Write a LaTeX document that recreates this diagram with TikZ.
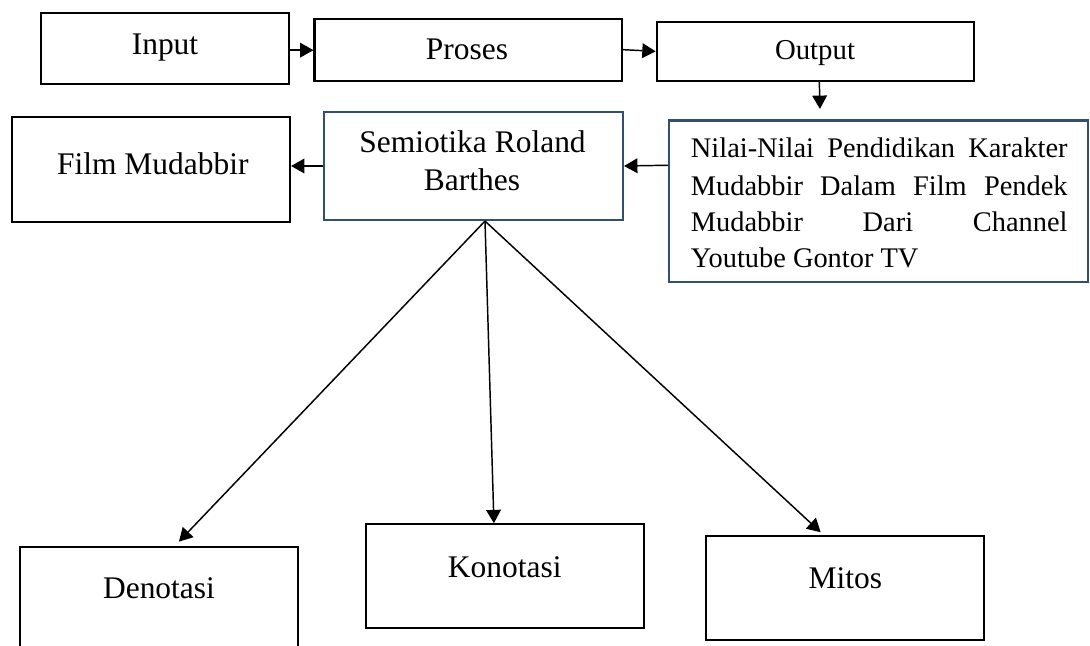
\documentclass[tikz,border=0pt]{standalone}
\usepackage{fontspec}
\setmainfont{Liberation Serif}
\usetikzlibrary{arrows.meta,fit,calc}
\definecolor{boxblue}{RGB}{49,80,110}
\begin{document}
\begin{tikzpicture}[x=0.75pt,y=-0.75pt,
  box/.style={draw=black, line width=1.6pt, rectangle, inner sep=0pt},
  bbox/.style={draw=boxblue, line width=1.6pt, rectangle, inner sep=0pt},
  txt/.style={inner sep=0pt, anchor=base, font=\fontsize{23.6}{27}\selectfont},
  stxt/.style={inner sep=0pt, anchor=base west, font=\fontsize{21.3}{26}\selectfont},
  conn/.style={line width=1.1pt, -{Triangle[length=10pt,width=11pt]}}]
\useasboundingbox (0,0) rectangle (1090,646);
\clip (0,0) rectangle (1090,646);
% boxes
\node[box, fit={(40.7,13.3) (289.3,84)}] (input) {};
\node[box, fit={(314.5,19.3) (621.7,81)}] (proses) {};
\node[box, fit={(656.7,21.7) (974,81)}] (output) {};
\node[box, fit={(11.7,116.7) (290,221.7)}] (film) {};
\node[bbox, fit={(324,112) (623,220)}] (semio) {};
\node[bbox, fit={(669.3,120.5) (1088,282)}] (nilai) {};
\node[box, fit={(20,547.3) (298.3,700)}] (denot) {};
\node[box, fit={(366,524.3) (644.3,627.7)}] (konot) {};
\node[box, fit={(706,535.7) (984,640)}] (mitos) {};
% texts
\node[txt] (tinput) at (165,54.3) {Input};
\node[txt] (tproses) at (467,60) {Proses};
\node[txt, font=\fontsize{21.6}{25}\selectfont] (toutput) at (815,60) {Output};
\node[txt] (tfilm) at (152.8,174) {Film Mudabbir};
\node[txt] (tsemio1) at (472.5,152) {Semiotika Roland};
\node[txt] (tsemio2) at (472,190) {Barthes};
\node[stxt] (tn1) at (690.7,157) {\makebox[282.5pt][s]{Nilai-Nilai Pendidikan Karakter}};
\node[stxt] (tn2) at (690.7,195) {\makebox[282.5pt][s]{Mudabbir Dalam Film Pendek}};
\node[stxt] (tn3) at (690.7,231) {\makebox[282.5pt][s]{Mudabbir Dari Channel}};
\node[stxt] (tn4) at (690.7,267) {Youtube Gontor TV};
\node[txt] (tdenot) at (159,598) {Denotasi};
\node[txt] (tkonot) at (504.7,577) {Konotasi};
\node[txt] (tmitos) at (845.3,588) {Mitos};
% connector points
\coordinate (nilaiin) at ($(nilai.north west)+(151.7,-10.5)$);
\coordinate (hub) at ($(semio.south)+(11.5,0)$);
\coordinate (denotin) at ($(denot.north west)+(160,-4.6)$);
\coordinate (konotin) at ($(konot.north west)+(129,0)$);
\coordinate (mitosin) at ($(mitos.north west)+(115.7,-2.4)$);
% connectors
\draw[conn] (input.east |- proses.west) -- (proses.west);
\draw[conn] ($(proses.east)+(0,-0.5)$) -- (output.west);
\draw[conn] ($(output.south)+(4,0)$) -- (nilaiin);
\draw[conn] ($(nilai.north west)!0.28!(nilai.south west)$) -- (semio.east);
\draw[conn] (semio.west) -- (semio.west -| film.east);
\draw[conn] (hub) -- (denotin);
\draw[conn] (hub) -- (konotin);
\draw[conn] (hub) -- (mitosin);
\end{tikzpicture}
\end{document}
